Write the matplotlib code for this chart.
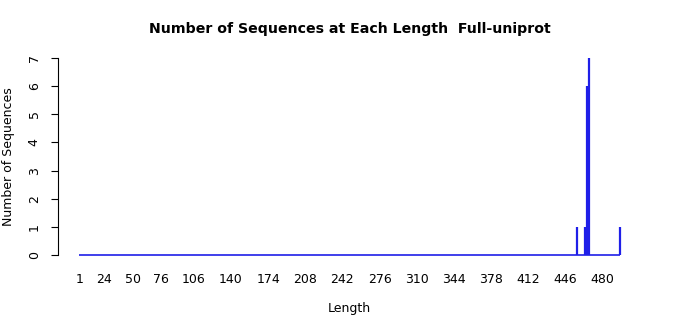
import numpy as np
import matplotlib
matplotlib.use("Agg")
import matplotlib.pyplot as plt

# counts per sequence length (only non-zero lengths listed)
lengths = [457, 464, 465, 466, 467, 468, 496]
counts = [1, 1, 1, 6, 2, 7, 1]
min_len, max_len = 1, 496
xtick_vals = [1, 24, 50, 76, 106, 140, 174, 208, 242, 276, 310, 344, 378, 412, 446, 480]
yticks = [0, 1, 2, 3, 4, 5, 6, 7]

fig = plt.figure(figsize=(7, 3.15), dpi=100)
ax = fig.add_axes([57.5 / 700, 1 - 263 / 315, 584 / 700, 213 / 315])

col = '#1f1fe8'
ax.hlines(0, min_len, max_len, color=col, lw=1.2)
ax.vlines(lengths, 0, counts, color=col, lw=1.6)

span = max_len - min_len
ax.set_xlim(min_len - 0.04 * span, max_len + 0.04 * span)
ax.set_ylim(-0.28, 7.28)

for s in ['top', 'right', 'bottom']:
    ax.spines[s].set_visible(False)
ax.spines['left'].set_bounds(0, 7)
ax.spines['left'].set_linewidth(0.8)

ax.set_yticks(yticks)
ax.set_yticklabels([str(v) for v in yticks], rotation=90, va='center', fontsize=9)
ax.tick_params(axis='y', length=5, width=0.8, pad=7)
ax.set_xticks(xtick_vals)
ax.set_xticklabels([str(v) for v in xtick_vals], fontsize=9)
ax.tick_params(axis='x', length=0, pad=7)

ax.set_xlabel('Length', fontsize=9, labelpad=12)
ax.set_ylabel('Number of Sequences', fontsize=9, va='center')
ax.yaxis.set_label_coords(-48.5 / 584, 0.5)
fig.suptitle('Number of Sequences at Each Length  Full-uniprot', fontsize=10.2, fontweight='bold', y=0.93)

fig.savefig('out.png', dpi=100)
